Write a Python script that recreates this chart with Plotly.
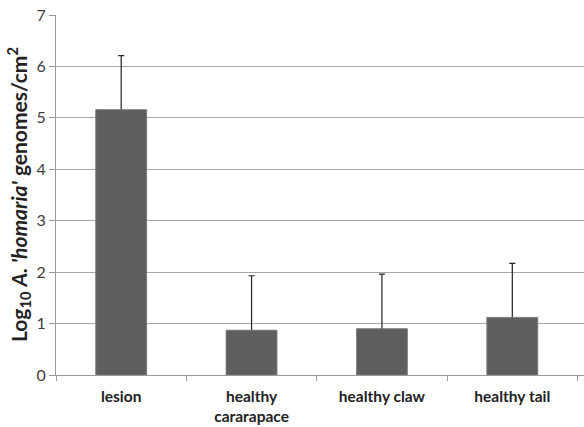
import plotly.graph_objects as go

categories = ["lesion", "healthy<br>cararapace", "healthy claw", "healthy tail"]
means = [5.16, 0.87, 0.90, 1.12]
sd_plus = [1.05, 1.06, 1.06, 1.05]
y_ticks = [0, 1, 2, 3, 4, 5, 6, 7]
y_title = "Log<sub>10</sub> <i>A. 'homaria'</i> genomes/cm<sup>2</sup>"

bar_style = dict(color="#5f5f5f", line=dict(color="#8a8a8a", width=0.6))

fig = go.Figure()
# bars carrying the upward (+SD) error bars
fig.add_trace(go.Bar(
    x=categories, y=means, width=0.39, marker=bar_style,
    error_y=dict(type="data", symmetric=False, array=sd_plus,
                 arrayminus=[0.06] * len(means),
                 color="#222222", thickness=1.2, width=3),
))
# same bars drawn on top to hide the lower end of each error bar
fig.add_trace(go.Bar(x=categories, y=means, width=0.39, marker=bar_style,
                     hoverinfo="skip"))

fig.update_layout(
    barmode="overlay",
    width=584, height=427,
    margin=dict(l=56, r=0, t=15, b=52),
    paper_bgcolor="white", plot_bgcolor="white",
    showlegend=False,
    font=dict(family="Lato, Carlito, Liberation Sans, sans-serif", color="#333333"),
    xaxis=dict(
        range=[-0.5, 3.55], automargin=False,
        showline=True, linecolor="#9a9a9a", linewidth=1,
        ticks="outside", tickson="boundaries", ticklen=5, tickcolor="#9a9a9a",
        ticklabelstandoff=7,
        tickfont=dict(size=15.5, color="#222222", family="Lato, sans-serif", weight="bold"),
        showgrid=False,
    ),
    yaxis=dict(
        range=[0, 7], tickvals=y_ticks, automargin=False,
        showline=True, linecolor="#9a9a9a", linewidth=1,
        ticks="outside", ticklen=6, tickcolor="#9a9a9a",
        showgrid=True, gridcolor="#a8a8a8", gridwidth=1,
        zeroline=False,
        tickfont=dict(size=16, color="#404040"),
    ),
    annotations=[dict(
        text=y_title, textangle=-90, showarrow=False,
        xref="paper", yref="paper", x=-38/528, y=0.5,
        xanchor="center", yanchor="middle",
        font=dict(size=21, color="#222222", weight="bold"),
    )],
)

fig.write_html("out.html", config={"displayModeBar": False},
               post_script="document.body.style.margin='0px';")
